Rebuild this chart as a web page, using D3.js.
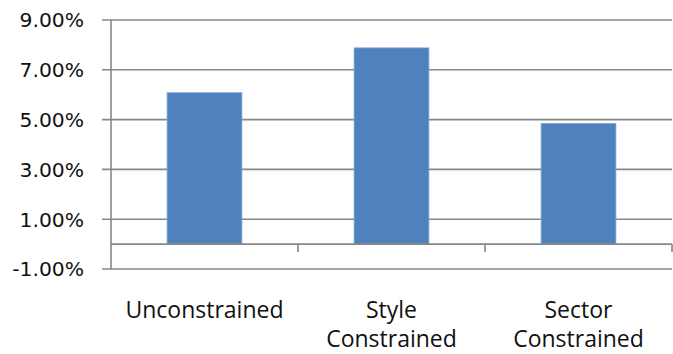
<!DOCTYPE html>
<html>
<head>
<meta charset="utf-8">
<script src="https://cdn.jsdelivr.net/npm/d3@7"></script>
<style>
  body { margin: 0; background: #fff; }
  svg { display: block; }
</style>
</head>
<body>
<div id="chart"></div>
<script>
const categories = ["Unconstrained", "Style Constrained", "Sector Constrained"]
const labelLines = [["Unconstrained"], ["Style", "Constrained"], ["Sector", "Constrained"]]
const values = [6.08, 7.88, 4.84]
const yTicks = [-1, 1, 3, 5, 7, 9]

const W = 673, H = 354
const margin = {top: 20, right: 1, bottom: 85, left: 111}
const gridColor = "#878787"

const svg = d3.select("#chart").append("svg")
    .attr("width", W)
    .attr("height", H)

const x = d3.scaleBand()
    .domain(categories)
    .range([margin.left, W - margin.right])
    .paddingInner(0.6)
    .paddingOuter(0.3)

const band = d3.scaleBand()
    .domain(categories)
    .range([margin.left, W - margin.right])

const y = d3.scaleLinear()
    .domain([-1, 9])
    .range([H - margin.bottom, margin.top])

// gridlines + y ticks
svg.append("g")
    .selectAll("line")
    .data(yTicks)
    .join("line")
        .attr("x1", margin.left - 9)
        .attr("x2", W - margin.right)
        .attr("y1", d => y(d))
        .attr("y2", d => y(d))
        .attr("stroke", gridColor)
        .attr("stroke-width", 1.6)

// y axis line
svg.append("line")
    .attr("x1", margin.left).attr("x2", margin.left)
    .attr("y1", y(9)).attr("y2", y(-1))
    .attr("stroke", gridColor)
    .attr("stroke-width", 1.6)

svg.append("g")
    .selectAll("text")
    .data(yTicks)
    .join("text")
        .attr("x", 84)
        .attr("y", d => y(d))
        .attr("dy", "0.36em")
        .attr("text-anchor", "end")
        .attr("font-family", "DejaVu Sans")
        .attr("font-size", 20.3)
        .attr("fill", "#111")
        .text(d => d.toFixed(2) + "%")

// bars
svg.append("g")
    .selectAll("rect")
    .data(values)
    .join("rect")
        .attr("x", (d, i) => x(categories[i]))
        .attr("width", x.bandwidth())
        .attr("y", d => y(d))
        .attr("height", d => y(0) - y(d))
        .attr("fill", "#4f81bd")
        .attr("stroke", "#7fa3d3")
        .attr("stroke-width", 0.8)

// category axis at zero
svg.append("line")
    .attr("x1", margin.left).attr("x2", W - margin.right)
    .attr("y1", y(0)).attr("y2", y(0))
    .attr("stroke", gridColor)
    .attr("stroke-width", 1.6)

svg.append("g")
    .selectAll("line")
    .data(categories.slice(1).concat([null]))
    .join("line")
        .attr("x1", (d, i) => band(categories[i]) + band.bandwidth())
        .attr("x2", (d, i) => band(categories[i]) + band.bandwidth())
        .attr("y1", y(0))
        .attr("y2", y(0) + 8)
        .attr("stroke", gridColor)
        .attr("stroke-width", 1.6)

// category labels
const labels = svg.append("g")
    .selectAll("text")
    .data(labelLines)
    .join("text")
        .attr("x", (d, i) => band(categories[i]) + band.bandwidth() / 2)
        .attr("y", 318)
        .attr("text-anchor", "middle")
        .attr("font-family", "Open Sans")
        .attr("font-size", 23)
        .attr("fill", "#111")

labels.selectAll("tspan")
    .data(d => d)
    .join("tspan")
        .attr("x", function() { return this.parentNode.getAttribute("x") })
        .attr("dy", (d, i) => i === 0 ? 0 : 29)
        .text(d => d)
</script>
</body>
</html>
